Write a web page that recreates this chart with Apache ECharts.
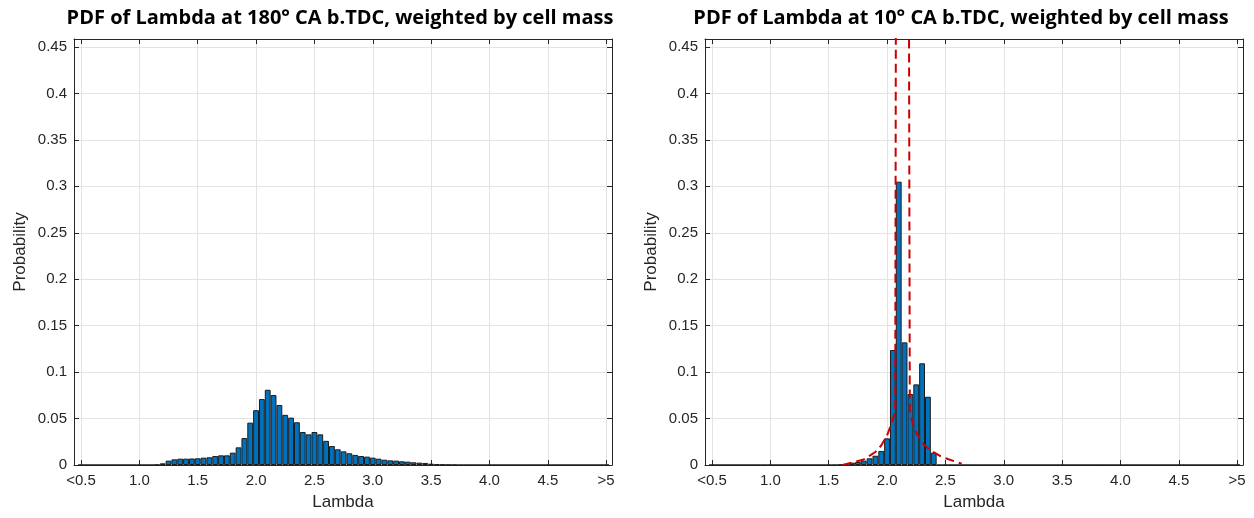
<!DOCTYPE html>
<html><head><meta charset="utf-8">
<script src="https://cdn.jsdelivr.net/npm/echarts@6/dist/echarts.min.js"></script>
<style>html,body{margin:0;padding:0;background:#fff}#c{width:1254px;height:518px}</style>
</head><body><div id="c"></div>
<script>
// ---- data ----
const binCenters = [0.50,0.55,0.60,0.65,0.70,0.75,0.80,0.85,0.90,0.95,1.00,1.05,1.10,1.15,1.20,1.25,1.30,1.35,1.40,1.45,1.50,1.55,1.60,1.65,1.70,1.75,1.80,1.85,1.90,1.95,2.00,2.05,2.10,2.15,2.20,2.25,2.30,2.35,2.40,2.45,2.50,2.55,2.60,2.65,2.70,2.75,2.80,2.85,2.90,2.95,3.00,3.05,3.10,3.15,3.20,3.25,3.30,3.35,3.40,3.45,3.50,3.55,3.60,3.65,3.70,3.75,3.80,3.85,3.90,3.95,4.00,4.05,4.10,4.15,4.20,4.25,4.30,4.35,4.40,4.45,4.50,4.55,4.60,4.65,4.70,4.75,4.80,4.85,4.90,4.95,5.00];
const probAt180 = [0,0,0,0,0,0,0,0,0,0,0,0,0,
  0.0003,0.0018,0.0047,0.0061,0.0068,0.0068,0.0070,0.0072,0.0079,0.0083,0.0097,0.0104,0.0104,0.0133,0.0190,0.0290,0.0456,
  0.0590,0.0710,0.0810,0.0753,0.0646,0.0540,0.0510,0.0460,0.0355,0.0330,0.0355,0.0330,0.0260,0.0204,0.0169,0.0147,0.0126,0.0108,0.0097,0.0090,
  0.0079,0.0068,0.0057,0.0050,0.0047,0.0040,0.0036,0.0029,0.0025,0.0022,0.0014,0.0008,0.0005,0.0003,0.0002,
  0,0,0,0,0,0,0,0,0,0,0,0,0,0,0,0,0,0,0,0,0,0,0,0,0,0];
const probAt10 = [0,0,0,0,0,0,0,0,0,0,0,0,0,0,0,0,0,0,0,0,0,0,
  0.0003,0.0012,0.0025,0.0032,0.0047,0.0072,0.0100,0.0151,0.0287,0.1238,0.3050,0.1320,0.0764,0.0868,0.1095,0.0735,0.0133,
  0,0,0,0,0,0,0,0,0,0,0,0,0,0,0,0,0,0,0,0,0,0,0,0,0,0,0,0,0,0,0,0,0,0,0,0,0,0,0,0,0,0,0,0,0,0,0,0,0,0,0,0];
const fitX = [1.62,1.70,1.80,1.90,1.95,2.00,2.04,2.07,2.077,2.10,2.13,2.16,2.186,2.195,2.22,2.25,2.30,2.37,2.45,2.52,2.60,2.64];
const fitY = [0,0.0025,0.006,0.014,0.021,0.032,0.045,0.058,0.6,1.5,2.0,1.5,0.6,0.056,0.045,0.035,0.024,0.016,0.010,0.0065,0.003,0.0015];
const xTickValues = [0.5,1.0,1.5,2.0,2.5,3.0,3.5,4.0,4.5,5.0];
const xTickLabels = ['<0.5','1.0','1.5','2.0','2.5','3.0','3.5','4.0','4.5','>5'];
const yTickValues = [0,0.05,0.1,0.15,0.2,0.25,0.3,0.35,0.4,0.45];
const yTickLabels = ['0','0.05','0.1','0.15','0.2','0.25','0.3','0.35','0.4','0.45'];
const titles = ['PDF of Lambda at 180\u00b0 CA b.TDC, weighted by cell mass','PDF of Lambda at 10\u00b0 CA b.TDC, weighted by cell mass'];
const xName = 'Lambda', yName = 'Probability';

// ---- chart ----
const TXT = '#262626', GRIDC = '#e3e3e3', FONT = 'Liberation Sans, Arial, sans-serif';
const XMIN = 0.44, XMAX = 5.05, YMIN = 0, YMAX = 0.4586;
function lab(vals, labels){ return v => { for (let i=0;i<vals.length;i++) if (Math.abs(vals[i]-v)<1e-6) return labels[i]; return ''; }; }
function xAxesFor(gi){
  return [{
    type:'value', gridIndex:gi, position:'bottom', min:XMIN, max:XMAX,
    axisLine:{show:true,onZero:false,lineStyle:{color:TXT,width:1}},
    axisTick:{show:true,inside:true,length:5,customValues:xTickValues,lineStyle:{color:TXT}},
    axisLabel:{customValues:xTickValues,formatter:lab(xTickValues,xTickLabels),color:TXT,fontSize:15,fontFamily:FONT,margin:8},
    splitLine:{show:true,lineStyle:{color:GRIDC,width:1}},
    name:xName,nameLocation:'middle',nameGap:29,nameMoveOverlap:false,nameTextStyle:{color:TXT,fontSize:17,fontFamily:FONT,verticalAlign:'top'}
  },{
    type:'value', gridIndex:gi, position:'top', min:XMIN, max:XMAX,
    axisLine:{show:true,onZero:false,lineStyle:{color:TXT,width:1}},
    axisTick:{show:true,inside:true,length:5,customValues:xTickValues,lineStyle:{color:TXT}},
    axisLabel:{show:false}, splitLine:{show:false}
  }];
}
function yAxesFor(gi){
  return [{
    type:'value', gridIndex:gi, position:'left', min:YMIN, max:YMAX,
    axisLine:{show:true,onZero:false,lineStyle:{color:TXT,width:1}},
    axisTick:{show:true,inside:true,length:5,customValues:yTickValues,lineStyle:{color:TXT}},
    axisLabel:{customValues:yTickValues,formatter:lab(yTickValues,yTickLabels),color:TXT,fontSize:15,fontFamily:FONT,margin:7},
    splitLine:{show:true,lineStyle:{color:GRIDC,width:1}},
    name:yName,nameLocation:'middle',nameGap:45,nameMoveOverlap:false,nameTextStyle:{color:TXT,fontSize:17,fontFamily:FONT}
  },{
    type:'value', gridIndex:gi, position:'right', min:YMIN, max:YMAX,
    axisLine:{show:true,onZero:false,lineStyle:{color:TXT,width:1}},
    axisTick:{show:true,inside:true,length:5,customValues:yTickValues,lineStyle:{color:TXT}},
    axisLabel:{show:false}, splitLine:{show:false}
  }];
}
const barStyle = {color:'#0072BD',borderColor:'#1c1c1c',borderWidth:1};
const TITLE_FONT = 'bold 20px "Open Sans", sans-serif';
const option = {
  animation:false,
  backgroundColor:'#ffffff',
  grid:[{left:74,top:39,width:538,height:426},{left:705,top:39,width:538,height:426}],
  xAxis:[...xAxesFor(0),...xAxesFor(1)],
  yAxis:[...yAxesFor(0),...yAxesFor(1)],
  graphic:[
    {type:'text',x:340,y:18,style:{text:titles[0],textAlign:'center',textVerticalAlign:'middle',fill:'#000',font:TITLE_FONT}},
    {type:'text',x:961,y:18,style:{text:titles[1],textAlign:'center',textVerticalAlign:'middle',fill:'#000',font:TITLE_FONT}}
  ],
  series:[
    {type:'bar',xAxisIndex:0,yAxisIndex:0,barWidth:'100%',data:binCenters.map((c,i)=>[c,probAt180[i]]),itemStyle:barStyle},
    {type:'bar',xAxisIndex:2,yAxisIndex:2,barWidth:'100%',data:binCenters.map((c,i)=>[c,probAt10[i]]),itemStyle:barStyle},
    {type:'line',xAxisIndex:2,yAxisIndex:2,z:5,symbol:'none',clip:true,data:fitX.map((x,i)=>[x,fitY[i]]),
     lineStyle:{color:'#cc0000',width:2,type:[9,5]}}
  ]
};
const chart = echarts.init(document.getElementById('c'),null,{renderer:'canvas'});
chart.setOption(option);
</script></body></html>
